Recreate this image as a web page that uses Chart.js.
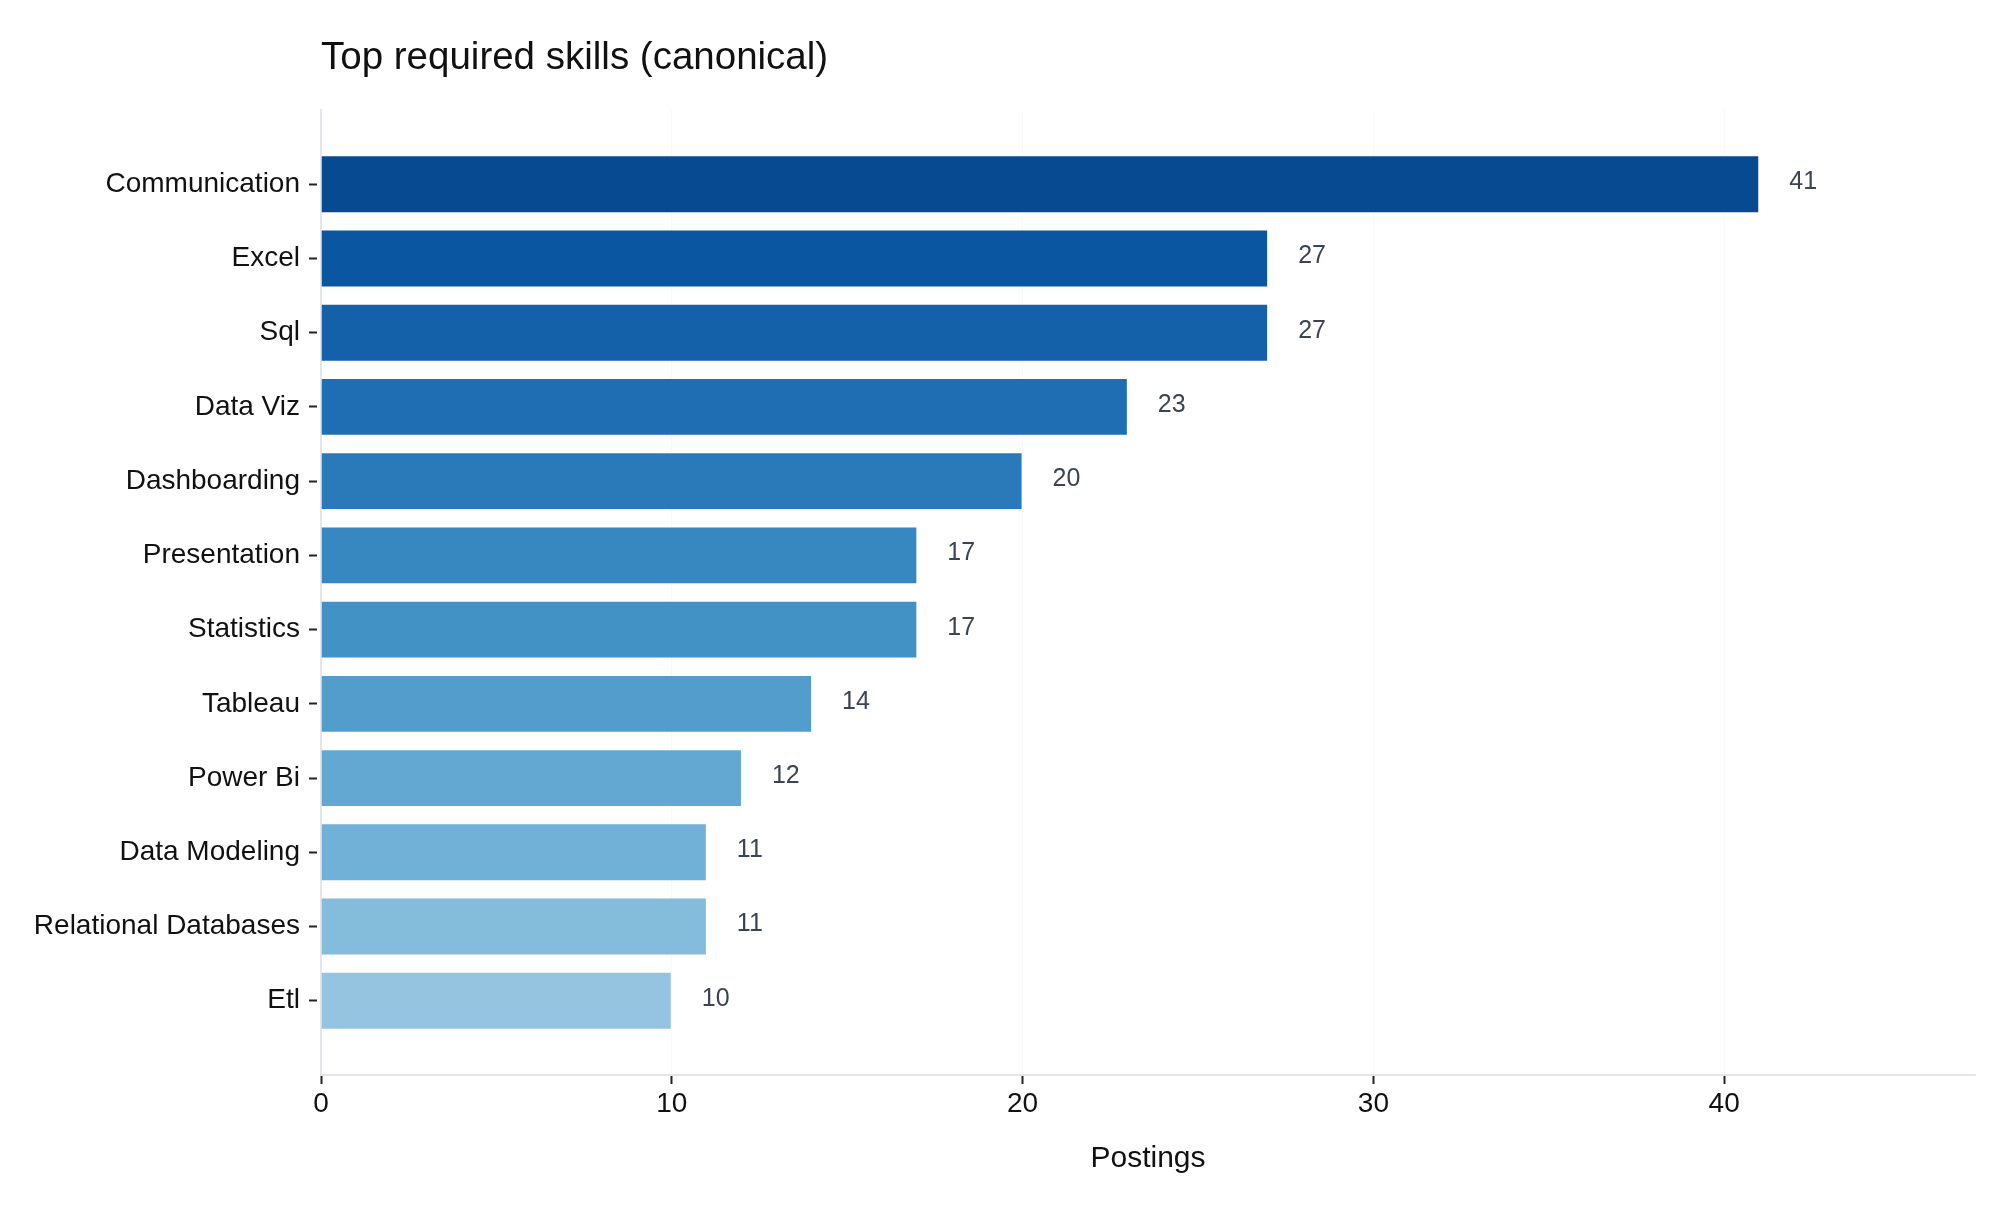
<!DOCTYPE html>
<html>
<head>
<meta charset="utf-8">
<title>Top required skills (canonical)</title>
<script src="https://cdn.jsdelivr.net/npm/chart.js@4.4.1/dist/chart.umd.min.js"></script>
<style>
  html, body { margin: 0; padding: 0; background: #fff; }
  #wrap { width: 2013px; height: 1216px; position: relative; }
</style>
</head>
<body>
<div id="wrap"><canvas id="skills"></canvas></div>
<script>
// data
const skills = ['Communication', 'Excel', 'Sql', 'Data Viz', 'Dashboarding', 'Presentation',
  'Statistics', 'Tableau', 'Power Bi', 'Data Modeling', 'Relational Databases', 'Etl'];
const postings = [41, 27, 27, 23, 20, 17, 17, 14, 12, 11, 11, 10];
const barColors = ['#084a91', '#0b56a0', '#1561a9', '#1f6eb3', '#2a7aba', '#3787c0',
  '#4292c6', '#539dcc', '#62a8d2', '#71b1d7', '#84bcdb', '#95c4e0'];
const xTicks = [0, 10, 20, 30, 40];

const FONT = '"Liberation Sans", Arial, Helvetica, sans-serif';

// empty slots top and bottom give a full band of room like the original
const labels = [''].concat(skills, ['']);
const values = [null].concat(postings, [null]);
const colors = ['transparent'].concat(barColors, ['transparent']);

const valueLabels = {
  id: 'valueLabels',
  afterDatasetsDraw(chart) {
    const ctx = chart.ctx;
    const meta = chart.getDatasetMeta(0);
    ctx.save();
    ctx.font = '25px ' + FONT;
    ctx.fillStyle = '#3b4354';
    ctx.textAlign = 'left';
    ctx.textBaseline = 'middle';
    meta.data.forEach((bar, i) => {
      if (values[i] == null) return;
      ctx.fillText(String(values[i]), bar.x + 30, bar.y - 2);
    });
    ctx.restore();
  }
};

new Chart(document.getElementById('skills'), {
  type: 'bar',
  data: {
    labels: labels,
    datasets: [{
      data: values,
      backgroundColor: colors,
      borderColor: 'rgba(255,255,255,0.18)',
      borderWidth: 1,
      categoryPercentage: 1,
      barPercentage: 0.78
    }]
  },
  options: {
    indexAxis: 'y',
    responsive: true,
    maintainAspectRatio: false,
    animation: false,
    layout: { padding: { left: 0, right: 38, top: 0, bottom: 0 } },
    plugins: {
      legend: { display: false },
      tooltip: { enabled: false },
      title: {
        display: true,
        text: 'Top required skills (canonical)',
        align: 'start',
        fullSize: false,
        color: '#111',
        font: { family: FONT, size: 38.5, weight: 'normal' },
        padding: { top: 35, bottom: 28.8 }
      }
    },
    scales: {
      x: {
        type: 'linear',
        min: 0,
        max: 41 * 1.15,
        afterBuildTicks: (scale) => {
          scale.ticks = xTicks.map(v => ({ value: v }));
        },
        afterFit: (scale) => { scale.height = 141; },
        grid: {
          color: 'rgba(0,0,0,0.025)',
          lineWidth: 1,
          tickColor: '#222',
          tickLength: 9,
          tickWidth: 2
        },
        border: { color: '#e5e5ec', width: 2 },
        ticks: {
          color: '#111',
          padding: 3,
          font: { family: FONT, size: 28 }
        },
        title: {
          display: true,
          text: 'Postings',
          color: '#111',
          font: { family: FONT, size: 30 },
          padding: { top: 0, bottom: 39 }
        }
      },
      y: {
        type: 'category',
        offset: false,
        afterFit: (scale) => { scale.width = 321; },
        grid: {
          offset: false,
          drawOnChartArea: false,
          tickLength: 12,
          tickWidth: 2,
          tickBorderDash: [8, 4],
          tickColor: (c) => (c.index === 0 || c.index === labels.length - 1) ? 'transparent' : '#222'
        },
        border: { color: '#e5e5ec', width: 2 },
        ticks: {
          color: '#111',
          padding: 9,
          autoSkip: false,
          font: { family: FONT, size: 28 }
        }
      }
    }
  },
  plugins: [valueLabels]
});
</script>
</body>
</html>
